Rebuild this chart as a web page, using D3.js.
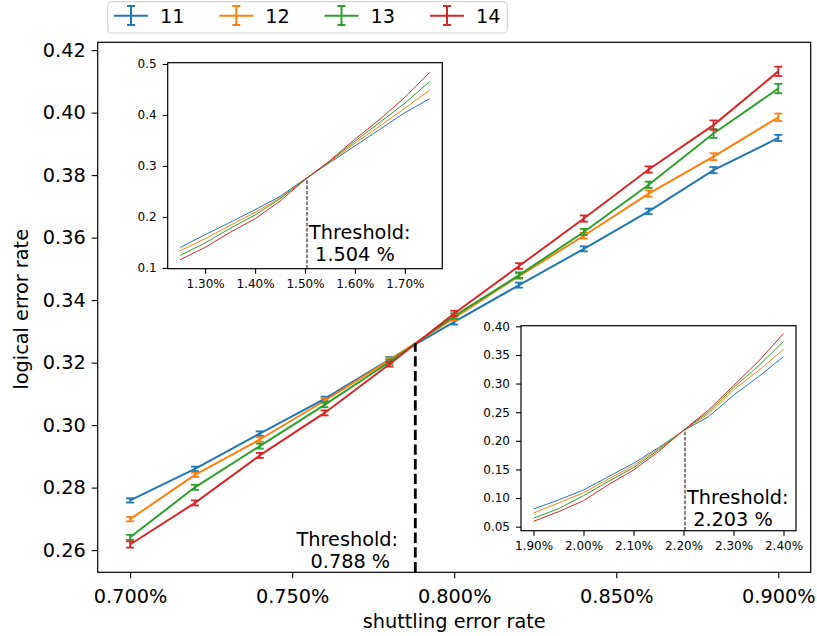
<!DOCTYPE html>
<html>
<head>
<meta charset="utf-8">
<script src="https://cdn.jsdelivr.net/npm/d3@7"></script>
<style>
  html, body { margin: 0; padding: 0; background: #fff; }
  svg { display: block; font-family: "DejaVu Sans", sans-serif; }
</style>
</head>
<body>
<svg id="chart" width="817" height="636"></svg>
<script>
// ---- data ----
const seriesNames = ["11", "12", "13", "14"];
const colors = ["#1f77b4", "#ff7f0e", "#2ca02c", "#d62728"];

// main panel: shuttling error rate (%) vs logical error rate
const mainX = [0.70, 0.72, 0.74, 0.76, 0.78, 0.80, 0.82, 0.84, 0.86, 0.88, 0.90];
const main11 = [0.2759, 0.2860, 0.2973, 0.3084, 0.3210, 0.3330, 0.3448, 0.3564, 0.3684, 0.3816, 0.3919];
const main12 = [0.2699, 0.2841, 0.2954, 0.3078, 0.3208, 0.3343, 0.3477, 0.3606, 0.3741, 0.3859, 0.3985];
const main13 = [0.2641, 0.2801, 0.2933, 0.3065, 0.3202, 0.3349, 0.3480, 0.3618, 0.3769, 0.3933, 0.4077];
const main14 = [0.2618, 0.2751, 0.2903, 0.3039, 0.3195, 0.3357, 0.3509, 0.3661, 0.3818, 0.3960, 0.4132];
const err11 = [0.0007, 0.0007, 0.0007, 0.0007, 0.0008, 0.0008, 0.0008, 0.0008, 0.0009, 0.0010, 0.0010];
const err12 = [0.0007, 0.0007, 0.0007, 0.0008, 0.0008, 0.0008, 0.0009, 0.0009, 0.0010, 0.0011, 0.0012];
const err13 = [0.0008, 0.0008, 0.0008, 0.0008, 0.0008, 0.0009, 0.0009, 0.0010, 0.0010, 0.0014, 0.0015];
const err14 = [0.0010, 0.0008, 0.0008, 0.0008, 0.0008, 0.0009, 0.0009, 0.0010, 0.0010, 0.0015, 0.0015];
const mainThreshold = 0.788;
const mainCross = 0.3262;
const mainXTicks = [0.70, 0.75, 0.80, 0.85, 0.90];
const mainYTicks = [0.26, 0.28, 0.30, 0.32, 0.34, 0.36, 0.38, 0.40, 0.42];

// upper inset
const in1X = [1.25, 1.30, 1.35, 1.40, 1.45, 1.50, 1.55, 1.60, 1.65, 1.70, 1.75];
const in1_11 = [0.1403, 0.1652, 0.1893, 0.2141, 0.2402, 0.2745, 0.3066, 0.3393, 0.3720, 0.4045, 0.4319];
const in1_12 = [0.1339, 0.1574, 0.1835, 0.2088, 0.2376, 0.2740, 0.3080, 0.3445, 0.3785, 0.4131, 0.4489];
const in1_13 = [0.1247, 0.1489, 0.1776, 0.2037, 0.2356, 0.2735, 0.3095, 0.3485, 0.3857, 0.4229, 0.4660];
const in1_14 = [0.1162, 0.1403, 0.1697, 0.1965, 0.2311, 0.2730, 0.3106, 0.3524, 0.3916, 0.4346, 0.4836];
const in1Threshold = 1.504;
const in1Cross = 0.276;
const in1XTicks = [1.30, 1.40, 1.50, 1.60, 1.70];
const in1YTicks = [0.1, 0.2, 0.3, 0.4, 0.5];

// lower inset
const in2X = [1.90, 1.95, 2.00, 2.05, 2.10, 2.15, 2.20, 2.25, 2.30, 2.35, 2.40];
const in2_11 = [0.0809, 0.0967, 0.1141, 0.1374, 0.1607, 0.1880, 0.2177, 0.2421, 0.2795, 0.3120, 0.3469];
const in2_12 = [0.0739, 0.0914, 0.1094, 0.1334, 0.1567, 0.1862, 0.2180, 0.2470, 0.2888, 0.3225, 0.3598];
const in2_13 = [0.0647, 0.0815, 0.1042, 0.1293, 0.1531, 0.1840, 0.2182, 0.2503, 0.2928, 0.3307, 0.3738];
const in2_14 = [0.0594, 0.0762, 0.0954, 0.1234, 0.1490, 0.1810, 0.2185, 0.2538, 0.2963, 0.3389, 0.3871];
const in2Threshold = 2.203;
const in2Cross = 0.2201;
const in2XTicks = [1.90, 2.00, 2.10, 2.20, 2.30, 2.40];
const in2YTicks = [0.05, 0.10, 0.15, 0.20, 0.25, 0.30, 0.35, 0.40];

// ---- drawing ----
const svg = d3.select("#chart");
const FONT = 19.3;
const SMALL = 12;

function frame(g, x, y) {
  const [x0, x1] = x.range();
  const [y0, y1] = y.range();
  g.append("rect")
    .attr("x", x0).attr("y", y1)
    .attr("width", x1 - x0).attr("height", y0 - y1)
    .attr("fill", "none").attr("stroke", "#000").attr("stroke-width", 1.2);
}

function styleAxis(sel, size) {
  sel.select(".domain").remove();
  sel.selectAll(".tick line").attr("stroke", "#000").attr("stroke-width", 1.1);
  sel.selectAll(".tick text")
    .attr("fill", "#000")
    .style("font-size", size + "px")
    .style("font-family", "DejaVu Sans, sans-serif");
}

function thresholdLabel(g, x, yTop, text1, text2, anchor, size) {
  const t = g.append("text")
    .attr("text-anchor", anchor)
    .style("font-size", size + "px")
    .attr("fill", "#000");
  t.append("tspan").attr("x", x).attr("y", yTop).text(text1);
  t.append("tspan").attr("x", x).attr("y", yTop + 22).text("\u00a0" + text2);
}

// main panel
const xM = d3.scaleLinear().domain([0.69, 0.91]).range([97.7, 810.7]);
const yM = d3.scaleLinear().domain([0.2529, 0.4225]).range([572.3, 42.3]);
const gMain = svg.append("g");

gMain.append("g")
  .attr("transform", `translate(0,${yM.range()[0]})`)
  .call(d3.axisBottom(xM).tickValues(mainXTicks).tickSize(6).tickPadding(11)
    .tickFormat(d => d3.format(".3f")(d) + "%"))
  .call(s => styleAxis(s, FONT));
gMain.append("g")
  .attr("transform", `translate(${xM.range()[0]},0)`)
  .call(d3.axisLeft(yM).tickValues(mainYTicks).tickSize(6).tickPadding(6)
    .tickFormat(d3.format(".2f")))
  .call(s => styleAxis(s, FONT));

gMain.append("text")
  .attr("x", (xM.range()[0] + xM.range()[1]) / 2).attr("y", 628)
  .attr("text-anchor", "middle").style("font-size", FONT + "px")
  .text("shuttling error rate");
gMain.append("text")
  .attr("transform", `translate(28,${(yM.range()[0] + yM.range()[1]) / 2 + 2}) rotate(-90)`)
  .attr("text-anchor", "middle").style("font-size", FONT + "px")
  .text("logical error rate");

const mainSeries = [main11, main12, main13, main14];
const mainErr = [err11, err12, err13, err14];
const lineM = d3.line().x(d => xM(d[0])).y(d => yM(d[1]));
mainSeries.forEach((vals, i) => {
  const pts = mainX.map((x, j) => [x, vals[j], mainErr[i][j]]);
  const g = gMain.append("g");
  g.append("path").datum(pts).attr("d", lineM)
    .attr("fill", "none").attr("stroke", colors[i]).attr("stroke-width", 2);
  const eb = g.selectAll("g.eb").data(pts).join("g").attr("class", "eb")
    .attr("stroke", colors[i]).attr("stroke-width", 1.8);
  eb.append("line")
    .attr("x1", d => xM(d[0])).attr("x2", d => xM(d[0]))
    .attr("y1", d => yM(d[1] - d[2])).attr("y2", d => yM(d[1] + d[2]));
  eb.append("line")
    .attr("x1", d => xM(d[0]) - 4).attr("x2", d => xM(d[0]) + 4)
    .attr("y1", d => yM(d[1] + d[2])).attr("y2", d => yM(d[1] + d[2]));
  eb.append("line")
    .attr("x1", d => xM(d[0]) - 4).attr("x2", d => xM(d[0]) + 4)
    .attr("y1", d => yM(d[1] - d[2])).attr("y2", d => yM(d[1] - d[2]));
});

gMain.append("line")
  .attr("x1", xM(mainThreshold)).attr("x2", xM(mainThreshold))
  .attr("y1", yM.range()[0]).attr("y2", yM(mainCross))
  .attr("stroke", "#000").attr("stroke-width", 2.8)
  .attr("stroke-dasharray", "10.3,4.4");
thresholdLabel(gMain, xM(mainThreshold) - 68, 546, "Threshold:",
  d3.format(".3f")(mainThreshold) + " %", "middle", FONT);
frame(gMain, xM, yM);

// inset panels
function inset(xs, seriesList, xDom, yDom, xRange, yRange, xTicks, yTicks, yFmt,
               thr, cross, labelY) {
  const x = d3.scaleLinear().domain(xDom).range(xRange);
  const y = d3.scaleLinear().domain(yDom).range(yRange);
  const g = svg.append("g");
  g.append("rect")
    .attr("x", xRange[0]).attr("y", yRange[1])
    .attr("width", xRange[1] - xRange[0]).attr("height", yRange[0] - yRange[1])
    .attr("fill", "#fff");
  g.append("g").attr("transform", `translate(0,${yRange[0]})`)
    .call(d3.axisBottom(x).tickValues(xTicks).tickSize(5).tickPadding(6)
      .tickFormat(d => d3.format(".2f")(d) + "%"))
    .call(s => styleAxis(s, SMALL));
  g.append("g").attr("transform", `translate(${xRange[0]},0)`)
    .call(d3.axisLeft(x === null ? y : y).tickValues(yTicks).tickSize(5).tickPadding(6)
      .tickFormat(d3.format(yFmt)))
    .call(s => styleAxis(s, SMALL));
  const line = d3.line().x(d => x(d[0])).y(d => y(d[1]));
  seriesList.forEach((vals, i) => {
    g.append("path").datum(xs.map((v, j) => [v, vals[j]])).attr("d", line)
      .attr("fill", "none").attr("stroke", colors[i]).attr("stroke-width", 1);
  });
  g.append("line")
    .attr("x1", x(thr)).attr("x2", x(thr))
    .attr("y1", yRange[0]).attr("y2", y(cross))
    .attr("stroke", "#000").attr("stroke-width", 1)
    .attr("stroke-dasharray", "3.7,1.6");
  thresholdLabel(g, x(thr) + 2, labelY, "Threshold:", d3.format(".3f")(thr) + " %", "start", FONT);
  frame(g, x, y);
}

inset(in1X, [in1_11, in1_12, in1_13, in1_14], [1.225, 1.775], [0.0985, 0.5025],
  [167.7, 442.3], [268.7, 62.7], in1XTicks, in1YTicks, ".1f", in1Threshold, in1Cross, 238.5);
inset(in2X, [in2_11, in2_12, in2_13, in2_14], [1.875, 2.425], [0.043, 0.40105],
  [521, 796], [530.7, 325.7], in2XTicks, in2YTicks, ".2f", in2Threshold, in2Cross, 504.3);

// legend
const leg = svg.append("g");
leg.append("rect")
  .attr("x", 107.7).attr("y", 1.7).attr("width", 399.6).attr("height", 31.3)
  .attr("rx", 4).attr("fill", "#fff").attr("stroke", "#d6d6d6").attr("stroke-width", 1.2);
const legX = [114, 219.3, 324.5, 430];
seriesNames.forEach((name, i) => {
  const g = leg.append("g").attr("stroke", colors[i]).attr("stroke-width", 2);
  const x0 = legX[i], cx = x0 + 17, cy = 15.7;
  g.append("line").attr("x1", x0).attr("x2", x0 + 34).attr("y1", cy).attr("y2", cy);
  g.append("line").attr("x1", cx).attr("x2", cx).attr("y1", 6).attr("y2", 25);
  g.append("line").attr("x1", cx - 4).attr("x2", cx + 4).attr("y1", 6).attr("y2", 6);
  g.append("line").attr("x1", cx - 4).attr("x2", cx + 4).attr("y1", 25).attr("y2", 25);
  leg.append("text").attr("x", x0 + 46).attr("y", 23.3)
    .style("font-size", FONT + "px").attr("fill", "#000").text(name);
});
</script>
</body>
</html>
